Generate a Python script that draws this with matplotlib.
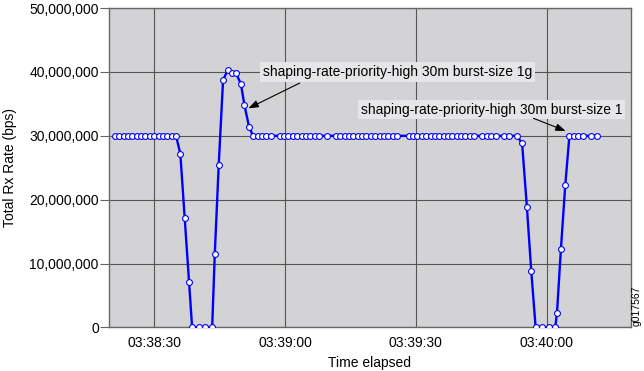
import matplotlib.pyplot as plt
import matplotlib.ticker as ticker

plt.rcParams['font.family'] = ['Liberation Sans', 'DejaVu Sans']

# seconds after 03:38:00 and Rx rate (bps)
seconds = [
    21, 22, 23, 24, 25, 26, 27, 28, 29, 30, 31, 32, 33, 34, 35,
    36, 37, 38,
    38.7, 40.2, 41.7, 43.3,
    43.9, 44.8, 45.8, 46.85, 47.8, 48.7, 49.9, 50.7, 51.8,
    52.7, 53.7, 54.7, 55.7, 56.7,
    58.8, 59.8, 60.8, 61.8, 62.8, 63.8, 64.8, 65.8, 66.8, 67.8,
    69.7,
    71.7, 72.7, 73.7, 74.7, 75.7, 76.7, 77.7, 78.7, 79.7, 80.7, 81.7, 82.7, 83.7, 84.7, 85.7,
    88.4, 89.4, 90.4, 91.4, 92.4, 93.4, 94.4, 95.4, 96.4, 97.4, 98.4, 99.4, 100.4, 101.4, 102.4, 103.4,
    105.3, 106.3, 107.3, 108.3,
    110.3, 111.3,
    113.2,
    114.4, 115.5, 116.5,
    117.5, 119.0, 120.6, 122.0,
    122.4, 123.3, 124.3, 125.25,
    126.3, 127.3, 128.4, 130.2, 131.5,
]
rx_rate = [
    30.0e6, 30.0e6, 30.0e6, 30.0e6, 30.0e6, 30.0e6, 30.0e6, 30.0e6, 30.0e6, 30.0e6, 30.0e6, 30.0e6, 30.0e6, 30.0e6, 30.0e6,
    27.2e6, 17.1e6, 7.1e6,
    0, 0, 0, 0,
    11.5e6, 25.4e6, 38.7e6, 40.3e6, 39.9e6, 39.9e6, 38.1e6, 34.8e6, 31.3e6,
    30.0e6, 30.0e6, 30.0e6, 30.0e6, 30.0e6,
    30.0e6, 30.0e6, 30.0e6, 30.0e6, 30.0e6, 30.0e6, 30.0e6, 30.0e6, 30.0e6, 30.0e6,
    30.0e6,
    30.0e6, 30.0e6, 30.0e6, 30.0e6, 30.0e6, 30.0e6, 30.0e6, 30.0e6, 30.0e6, 30.0e6, 30.0e6, 30.0e6, 30.0e6, 30.0e6, 30.0e6,
    30.0e6, 30.0e6, 30.0e6, 30.0e6, 30.0e6, 30.0e6, 30.0e6, 30.0e6, 30.0e6, 30.0e6, 30.0e6, 30.0e6, 30.0e6, 30.0e6, 30.0e6, 30.0e6,
    30.0e6, 30.0e6, 30.0e6, 30.0e6,
    30.0e6, 30.0e6,
    30.0e6,
    28.8e6, 18.8e6, 8.8e6,
    0, 0, 0, 0,
    2.3e6, 12.3e6, 22.3e6, 30.0e6,
    30.0e6, 30.0e6, 30.0e6, 30.0e6, 30.0e6,
]

y_ticks = [0, 10e6, 20e6, 30e6, 40e6, 50e6]
x_ticks = [30, 60, 90, 120]

label_1 = "shaping-rate-priority-high 30m burst-size 1g"
label_2 = "shaping-rate-priority-high 30m burst-size 1"


def fmt_time(s, pos=None):
    m = 38 + int(s // 60)
    return "03:%02d:%02d" % (m, int(s % 60))


fig = plt.figure(figsize=(6.44, 3.71), dpi=100)
ax = fig.add_axes([0.1697, 0.1173, 0.8096, 0.8611])
ax.set_facecolor('#d3d3d5')

ax.plot(seconds, rx_rate, color='#0000ff', lw=1.7, marker='o', markersize=4.2,
        markerfacecolor='white', markeredgecolor='#0000ff', markeredgewidth=0.8,
        zorder=3)

ax.set_xlim(19.7, 139.3)
ax.set_ylim(0, 50e6)
ax.set_xticks(x_ticks)
ax.set_yticks(y_ticks)
ax.xaxis.set_major_formatter(ticker.FuncFormatter(fmt_time))
ax.yaxis.set_major_formatter(ticker.FuncFormatter(lambda v, p: "{:,.0f}".format(v)))
ax.tick_params(axis='x', length=0, pad=6, labelsize=10)
ax.tick_params(axis='y', length=6.5, pad=1, labelsize=10, color='#666666')

ax.grid(True, color='#555555', lw=0.8)
ax.set_axisbelow(True)
for sp in ax.spines.values():
    sp.set_color('#666666')
    sp.set_linewidth(1)

ax.set_xlabel("Time elapsed", fontsize=10)
ax.set_ylabel("Total Rx Rate (bps)", fontsize=10)
ax.xaxis.set_label_coords(0.5, -0.088)
ax.yaxis.set_label_coords(-0.177, 0.5)

box = dict(boxstyle='square,pad=0.2', facecolor='#e6e6e8', edgecolor='none')
ax.text(55.0, 40e6, label_1, fontsize=10, ha='left', va='center', bbox=box, zorder=4)
ax.text(137.35, 34.1e6, label_2, fontsize=10, ha='right', va='center', bbox=box, zorder=4)

arrow = dict(arrowstyle='-|>,head_length=0.6,head_width=0.22', color='black', lw=0.8,
             shrinkA=0, shrinkB=0)
ax.annotate('', xy=(51.6, 34.3e6), xytext=(63.4, 38.26e6), arrowprops=arrow, zorder=5)
ax.annotate('', xy=(124.4, 30.75e6), xytext=(117.0, 32.74e6), arrowprops=arrow, zorder=5)

fig.text(0.989, 0.121, "g017567", rotation=90, ha='center', va='bottom', fontsize=7.5)

plt.savefig("out.png", dpi=100)
plt.close()
